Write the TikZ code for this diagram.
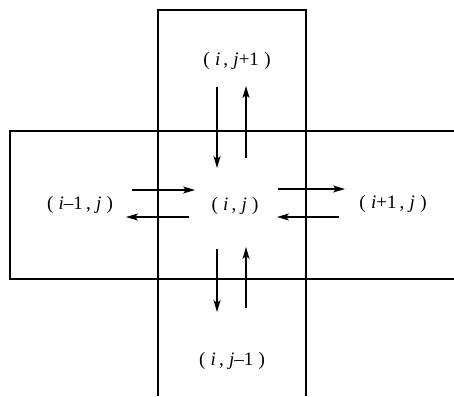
\documentclass[tikz,border=0pt]{standalone}
\usepackage{fontspec}
\setmainfont{Liberation Serif}
\usetikzlibrary{arrows.meta}

\begin{document}
\begin{tikzpicture}[x=1pt,y=-1pt,line width=1.8pt,
  cell/.style={font=\fontsize{19}{22}\selectfont},
  flux/.style={-{Stealth[length=12pt,width=7pt,inset=3pt]},line width=1.5pt}]
\useasboundingbox (0,0) rectangle (454,396);
% the two strips of cells
\draw (158,396) -- (158,10) -- (306,10) -- (306,396);
\draw (454,131) -- (10,131) -- (10,279) -- (454,279);
\node[cell] (c) at (235,206) {(\;\textit{i}\,,\;\textit{j}\;)};
\node[cell] (n) at (237,61) {(\;\textit{i}\,,\;\textit{j}+1\;)};
\node[cell] (s) at (232,361) {(\;\textit{i}\,,\;\textit{j}–1\;)};
\node[cell] (w) at (80,205) {(\;\textit{i}–1\,,\;\textit{j}\;)};
\node[cell] (e) at (393,204) {(\;\textit{i}+1\,,\;\textit{j}\;)};
\coordinate (n1) at (217,87);  \coordinate (n2) at (217,168);
\coordinate (n3) at (246,158); \coordinate (n4) at (246,86);
\coordinate (s1) at (217,249); \coordinate (s2) at (217,312);
\coordinate (s3) at (246,308); \coordinate (s4) at (246,247);
\coordinate (w1) at (132,190); \coordinate (w2) at (195,190);
\coordinate (w3) at (189,217); \coordinate (w4) at (126,217);
\coordinate (e1) at (278,189); \coordinate (e2) at (345,189);
\coordinate (e3) at (339,217); \coordinate (e4) at (277,217);
\draw[flux] (n1) -- (n2);
\draw[flux] (n3) -- (n4);
\draw[flux] (s1) -- (s2);
\draw[flux] (s3) -- (s4);
\draw[flux] (w1) -- (w2);
\draw[flux] (w3) -- (w4);
\draw[flux] (e1) -- (e2);
\draw[flux] (e3) -- (e4);
\end{tikzpicture}
\end{document}
